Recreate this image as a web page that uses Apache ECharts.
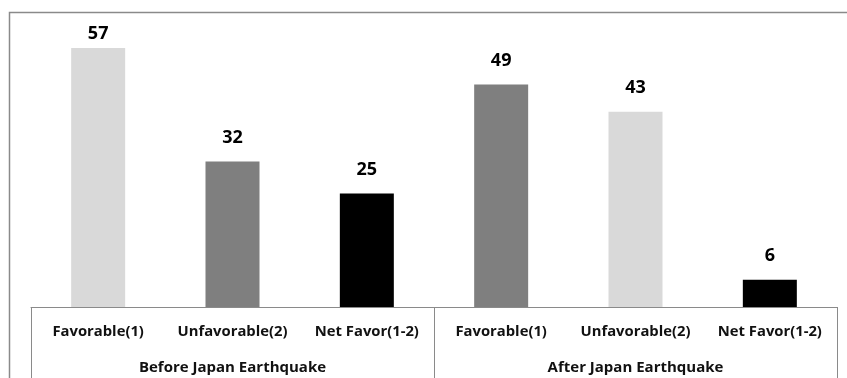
<!DOCTYPE html>
<html>
<head>
<meta charset="utf-8">
<script src="https://cdn.jsdelivr.net/npm/echarts@6/dist/echarts.min.js"></script>
<style>
  html, body { margin: 0; padding: 0; background: #fff; }
  #chart { width: 847px; height: 378px; }
</style>
</head>
<body>
<div id="chart"></div>
<script>
// Favorability measures, grouped by period
const categories = ['Favorable(1)', 'Unfavorable(2)', 'Net Favor(1-2)', 'Favorable(1)', 'Unfavorable(2)', 'Net Favor(1-2)'];
const groups = ['Before Japan Earthquake', 'After Japan Earthquake'];
const values = [57, 32, 25, 49, 43, 6];

// Fill for each bar in order
const barColors = ['#d9d9d9', '#7f7f7f', '#000000', '#7f7f7f', '#d9d9d9', '#000000'];

const font = '"Open Sans", "Noto Sans", sans-serif';
const lineColor = '#8a8a8a';

const chart = echarts.init(document.getElementById('chart'));
chart.setOption({
  animation: false,
  backgroundColor: '#fff',
  grid: { left: 31, right: 10, top: 34.4, bottom: 71, containLabel: false },
  graphic: [{
    type: 'rect',
    shape: { x: 9.5, y: 12.5, width: 1000, height: 600 },
    style: { fill: 'none', stroke: lineColor, lineWidth: 1.5 },
    silent: true,
    z: -1
  }],
  xAxis: [
    {
      type: 'category',
      data: categories,
      position: 'bottom',
      axisLine: { show: true, lineStyle: { color: lineColor, width: 1 } },
      axisTick: { show: false },
      axisLabel: { color: '#111', fontFamily: font, fontWeight: 'bold', fontSize: 14.8, margin: 17, interval: 0 }
    },
    {
      type: 'category',
      data: groups,
      position: 'bottom',
      gridIndex: 0,
      axisLine: { show: false },
      axisTick: { show: true, length: 80, lineStyle: { color: lineColor, width: 1 } },
      axisLabel: { color: '#111', fontFamily: font, fontWeight: 'bold', fontSize: 15, margin: 53, interval: 0 }
    }
  ],
  yAxis: {
    type: 'value',
    min: 0,
    max: 60,
    show: false,
    splitLine: { show: false }
  },
  series: [{
    type: 'bar',
    xAxisIndex: 0,
    barWidth: 54,
    data: values.map((v, i) => ({
      value: v,
      itemStyle: { color: barColors[i] },
      // the tallest bar's label sits closer so it stays inside the frame
      label: { distance: i === 0 ? 5 : 15 }
    })),
    label: {
      show: true,
      position: 'top',
      color: '#000',
      fontFamily: font,
      fontWeight: 'bold',
      fontSize: 18
    }
  }]
});
</script>
</body>
</html>
